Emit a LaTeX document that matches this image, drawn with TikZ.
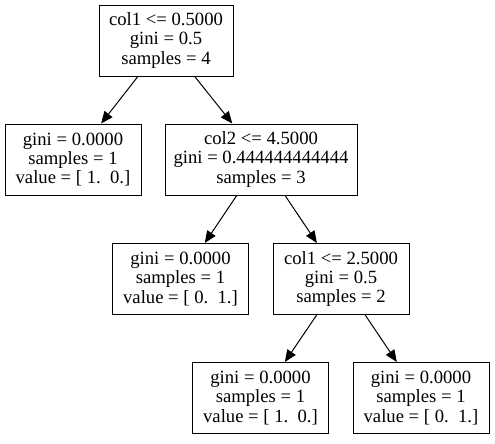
\documentclass[tikz,border=0pt]{standalone}
\usepackage{fontspec}
\setmainfont{Liberation Serif}
\usetikzlibrary{arrows.meta}
\tikzset{
  tn/.style={draw=black, line width=0.75pt, rectangle, inner sep=0pt, align=center,
    minimum height=53.25pt, font=\fontsize{14pt}{14.3pt}\selectfont},
  wleaf/.style={minimum width=102pt},
  wwide/.style={minimum width=144pt},
  edge/.style={draw=black, line width=0.75pt, -{Triangle[length=9pt, width=7.5pt]}}
}
\begin{document}
\begin{tikzpicture}[x=0.75pt, y=-0.75pt]
\useasboundingbox (0,0) rectangle (495,443);
\node[tn, minimum width=100.5pt] (n1) at (166,40.5) {col1 <= 0.5000\\gini = 0.5\\samples = 4};
\node[tn, wleaf] (n2) at (73,159.5) {gini = 0.0000\\samples = 1\\value = [ 1.~~0.]};
\node[tn, wwide] (n3) at (261,159.5) {col2 <= 4.5000\\gini = 0.444444444444\\samples = 3};
\node[tn, wleaf] (n4) at (180.5,279) {gini = 0.0000\\samples = 1\\value = [ 0.~~1.]};
\node[tn, wleaf] (n5) at (341,279) {col1 <= 2.5000\\gini = 0.5\\samples = 2};
\node[tn, wleaf] (n6) at (260.5,398) {gini = 0.0000\\samples = 1\\value = [ 1.~~0.]};
\node[tn, wleaf] (n7) at (421,398) {gini = 0.0000\\samples = 1\\value = [ 0.~~1.]};
\draw[edge] (n1) -- (n2);
\draw[edge] (n1) -- (n3);
\draw[edge] (n3) -- (n4);
\draw[edge] (n3) -- (n5);
\draw[edge] (n5) -- (n6);
\draw[edge] (n5) -- (n7);
\end{tikzpicture}
\end{document}
